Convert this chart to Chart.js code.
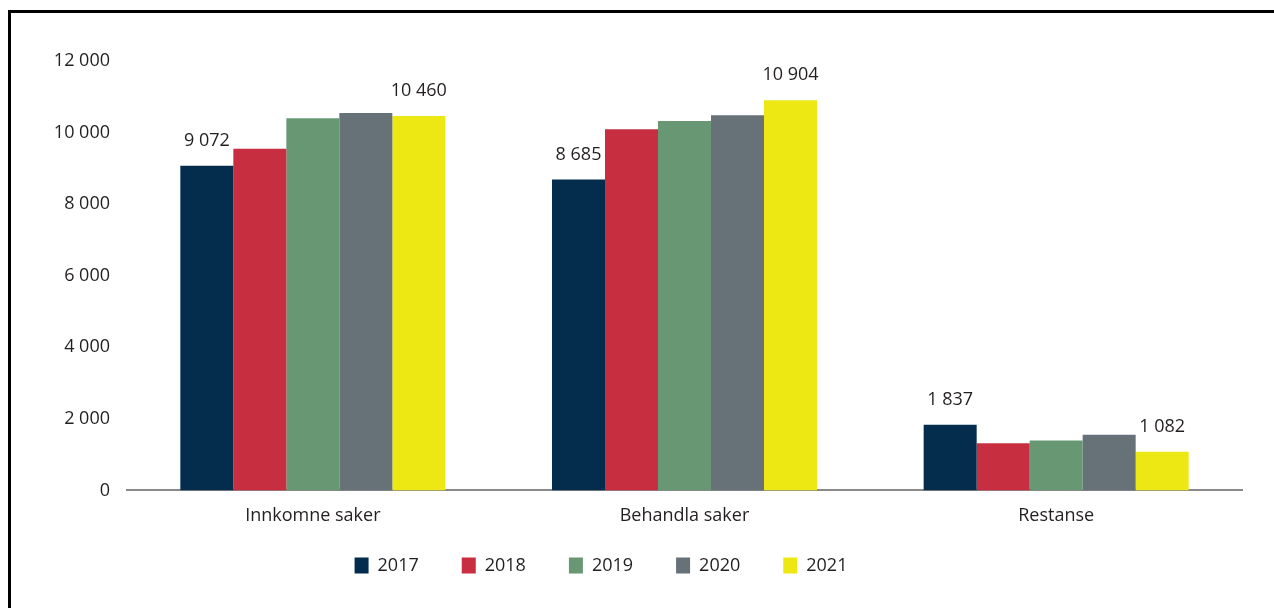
<!DOCTYPE html>
<html>
<head>
<meta charset="utf-8">
<script src="https://cdn.jsdelivr.net/npm/chart.js@4"></script>
<style>
    html, body { margin: 0; padding: 0; background: #fff; }
    #wrap { position: relative; width: 1274px; height: 608px; overflow: hidden; }
    #frame { position: absolute; left: 8px; top: 10px; right: -10px; bottom: -10px; border-left: 3px solid #000; border-top: 3px solid #000; pointer-events: none; }
</style>
</head>
<body>
<div id="wrap">
    <canvas id="chart" width="1274" height="608"></canvas>
    <div id="frame"></div>
</div>
<script>
const categories = ['Innkomne saker', 'Behandla saker', 'Restanse'];
const years = ['2017', '2018', '2019', '2020', '2021'];
const v2017 = [9072, 8685, 1837];
const v2018 = [9550, 10090, 1320];
const v2019 = [10400, 10325, 1395];
const v2020 = [10550, 10485, 1555];
const v2021 = [10460, 10904, 1082];
const colors = ['#032c4d', '#c72f41', '#679873', '#677178', '#ede714'];
const labelledYears = ['2017', '2021'];

const textColor = '#231f20';
const fontFamily = '"Open Sans", sans-serif';

function fmt(n) {
    return String(n).replace(/\B(?=(\d{3})+(?!\d))/g, ' ');
}

const seriesValues = [v2017, v2018, v2019, v2020, v2021];

// labels above the first and last year of each group
const valueLabels = {
    id: 'valueLabels',
    afterDatasetsDraw(chart) {
        const ctx = chart.ctx;
        ctx.save();
        ctx.font = '18px ' + fontFamily;
        ctx.fillStyle = textColor;
        ctx.textAlign = 'center';
        ctx.textBaseline = 'bottom';
        chart.data.datasets.forEach((ds, i) => {
            if (!labelledYears.includes(ds.label)) return;
            chart.getDatasetMeta(i).data.forEach((bar, j) => {
                ctx.fillText(fmt(ds.data[j]), bar.x, bar.y - 16);
            });
        });
        ctx.restore();
    }
};

// move the legend up and a bit to the left, like the original
const legendShift = {
    id: 'legendShift',
    beforeDraw(chart) {
        const lg = chart.legend;
        const h = lg.bottom - lg.top;
        lg.top = chart.chartArea.bottom + 23;
        lg.bottom = lg.top + h;
        lg.left = 20 - 30;
        lg.right = 1242 - 30;
    }
};

new Chart(document.getElementById('chart').getContext('2d'), {
    type: 'bar',
    data: {
        labels: categories,
        datasets: years.map((y, i) => ({
            label: y,
            data: seriesValues[i],
            backgroundColor: colors[i],
            borderWidth: 0,
            categoryPercentage: 0.713,
            barPercentage: 1
        }))
    },
    options: {
        responsive: false,
        animation: false,
        layout: { padding: { left: 20, right: 32, top: 61, bottom: -5 } },
        scales: {
            y: {
                min: 0,
                max: 12000,
                grid: { display: false, drawTicks: false },
                border: { display: false },
                ticks: {
                    stepSize: 2000,
                    padding: 17,
                    color: textColor,
                    font: { family: fontFamily, size: 18 },
                    callback: v => fmt(v)
                },
                afterFit: scale => { scale.width = 107; }
            },
            x: {
                grid: { display: false, drawTicks: false },
                border: { display: true, color: '#8a8a8a', width: 2 },
                ticks: {
                    padding: 15,
                    color: textColor,
                    font: { family: fontFamily, size: 18 }
                }
            }
        },
        plugins: {
            legend: {
                position: 'bottom',
                labels: {
                    boxWidth: 14,
                    boxHeight: 16,
                    padding: 43,
                    color: textColor,
                    font: { family: fontFamily, size: 18 }
                }
            },
            tooltip: { enabled: false }
        }
    },
    plugins: [valueLabels, legendShift]
});
</script>
</body>
</html>
